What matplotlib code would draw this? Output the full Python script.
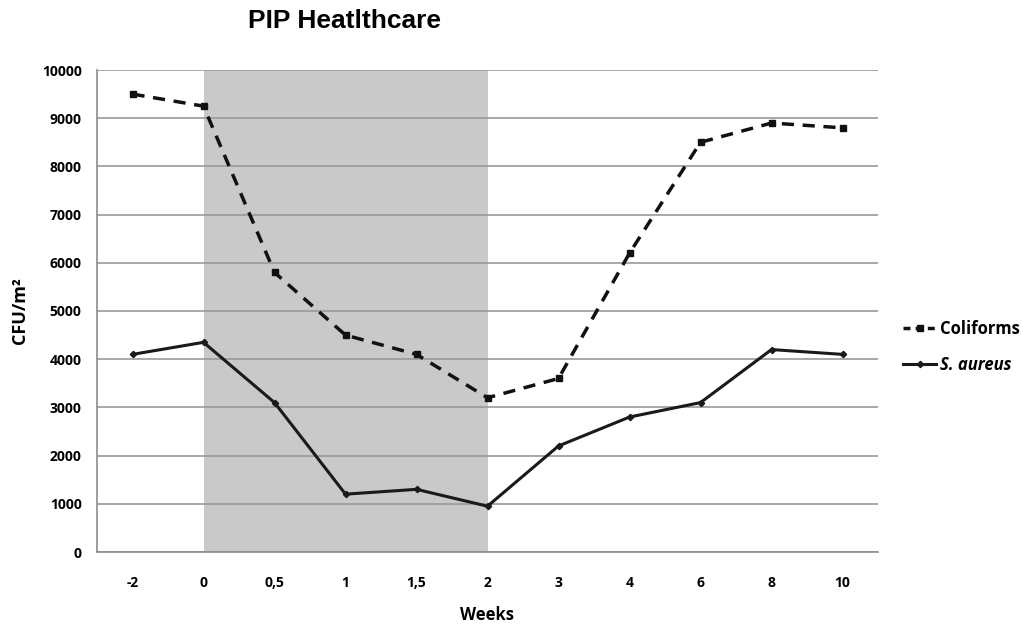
import matplotlib.pyplot as plt
from matplotlib.lines import Line2D

weeks = ['-2', '0', '0,5', '1', '1,5', '2', '3', '4', '6', '8', '10']
coliforms = [9500, 9250, 5800, 4500, 4100, 3200, 3600, 6200, 8500, 8900, 8800]
s_aureus = [4100, 4350, 3100, 1200, 1300, 950, 2200, 2800, 3100, 4200, 4100]
yticks = list(range(0, 10001, 1000))

# treatment period shaded between week 0 and week 2
shade_start = weeks.index('0')
shade_end = weeks.index('2')

fig = plt.figure(figsize=(10.23, 6.25), dpi=100)
ax = fig.add_axes([97 / 1023, 1 - 552 / 625, 781 / 1023, 482 / 625])

x = list(range(len(weeks)))
ax.axvspan(shade_start, shade_end, color='#c9c9c9', zorder=0.2, lw=0)

ax.plot(x, coliforms, color='#111111', lw=2.5, ls=(0, (3.5, 2.5)),
        marker='s', ms=4.2, zorder=3)
ax.plot(x, s_aureus, color='#1a1a1a', lw=2.2, ls='-',
        marker='D', ms=3.2, zorder=3)

ax.set_xlim(-0.5, len(weeks) - 0.5)
ax.set_ylim(0, 10000)
ax.set_yticks(yticks)
ax.set_xticks(x)
ax.set_xticklabels(weeks)
ax.set_axisbelow(True)
ax.yaxis.grid(True, color='#9a9a9a', lw=1.2)
ax.grid(False, axis='x')
ax.tick_params(length=0)
ax.tick_params(axis='y', pad=11)
ax.tick_params(axis='x', pad=17)
for lab in ax.get_xticklabels() + ax.get_yticklabels():
    lab.set_fontweight('bold')
    lab.set_fontsize(10)
    lab.set_family('Open Sans')

for side in ['top', 'right']:
    ax.spines[side].set_visible(False)
for side in ['left', 'bottom']:
    ax.spines[side].set_color('#8c8c8c')
    ax.spines[side].set_linewidth(1.2)

ax.set_xlabel('Weeks', fontsize=12, fontweight='bold', family='Open Sans', labelpad=12)
ax.set_ylabel('CFU/m²', fontsize=13, fontweight='bold', family='Open Sans', labelpad=9)

fig.text(345 / 1023, 1 - 21 / 625, 'PIP Heatlthcare', ha='center', va='center',
         fontsize=19, fontweight='bold', family='Liberation Sans')

handles = [
    Line2D([], [], color='#111111', lw=2.5, ls=(0, (2, 1.5)), marker='s', ms=4.2),
    Line2D([], [], color='#1a1a1a', lw=2.2, marker='D', ms=3.2),
]
leg = fig.legend(handles, ['Coliforms', 'S. aureus'], loc='center left',
                 bbox_to_anchor=(888 / 1023, 1 - 347 / 625), frameon=False,
                 handlelength=2.0, handletextpad=0.2, labelspacing=1.1,
                 prop={'family': 'Open Sans', 'weight': 'bold', 'size': 12})
leg.get_texts()[1].set_style('italic')

fig.savefig('out.png', dpi=100)
